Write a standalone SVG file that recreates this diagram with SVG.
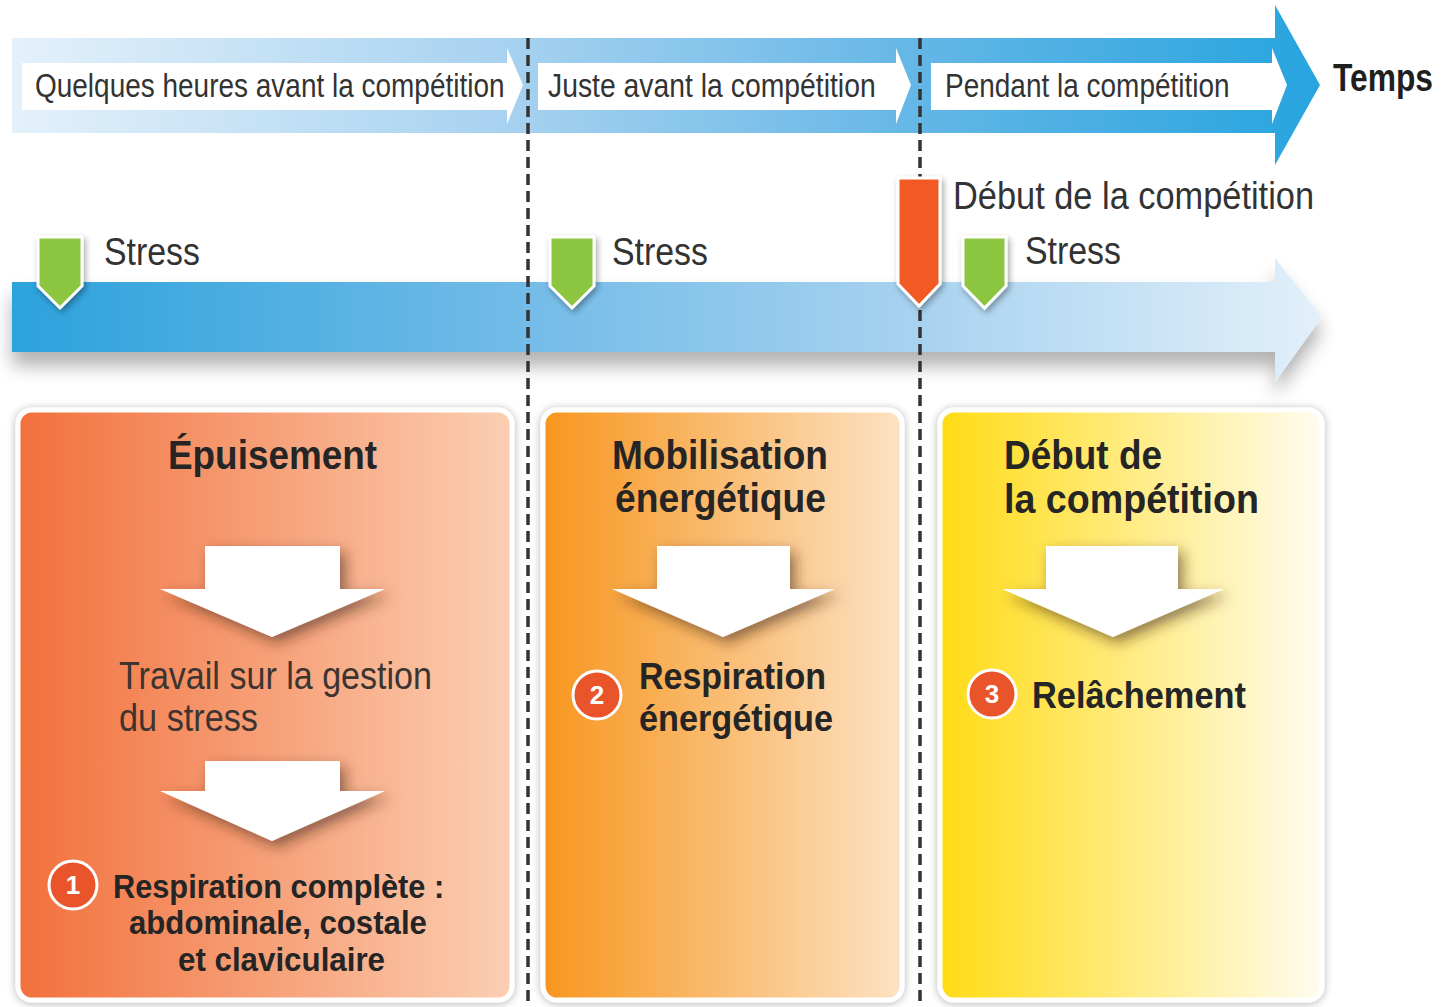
<svg xmlns="http://www.w3.org/2000/svg" width="1447" height="1007" viewBox="0 0 1447 1007">
<defs>
<style>
text{font-family:"Liberation Sans",Arial,sans-serif}
.lbl{fill:#333333;font-size:33px}
.stress{fill:#333333;font-size:38px}
.ttl{fill:#252525;font-size:40px;font-weight:bold}
.bd{fill:#252525;font-size:36px;font-weight:bold}
.bd3{fill:#252525;font-size:34px;font-weight:bold}
.reg{fill:#3d3430;font-size:38px}
.num{fill:#ffffff;font-size:26px;font-weight:bold;text-anchor:middle}
.wa{fill:#ffffff}
.div{stroke:#333333;stroke-width:3.5;stroke-dasharray:11 6;fill:none}
.box{stroke:#ffffff;stroke-width:5}
.mk{stroke:#ffffff;stroke-width:3}
.circ{fill:#e9542b;stroke:#ffffff;stroke-width:3}
</style>
<linearGradient id="gTop" x1="12" y1="0" x2="1320" y2="0" gradientUnits="userSpaceOnUse">
<stop offset="0" stop-color="#e4f1fb"/>
<stop offset="0.4" stop-color="#a3d0ef"/>
<stop offset="0.7" stop-color="#62b6e6"/>
<stop offset="1" stop-color="#27a4df"/>
</linearGradient>
<linearGradient id="gBar" x1="12" y1="0" x2="1322" y2="0" gradientUnits="userSpaceOnUse">
<stop offset="0" stop-color="#2ca2dc"/>
<stop offset="0.4" stop-color="#74bce8"/>
<stop offset="0.7" stop-color="#aad3f0"/>
<stop offset="1" stop-color="#e2f0fa"/>
</linearGradient>
<linearGradient id="gB1" x1="0" y1="0" x2="1" y2="0">
<stop offset="0" stop-color="#f2703c"/>
<stop offset="1" stop-color="#fbcfb3"/>
</linearGradient>
<linearGradient id="gB2" x1="0" y1="0" x2="1" y2="0">
<stop offset="0" stop-color="#f7961f"/>
<stop offset="1" stop-color="#fde2c4"/>
</linearGradient>
<linearGradient id="gB3" x1="0" y1="0" x2="1" y2="0">
<stop offset="0" stop-color="#ffdb14"/>
<stop offset="1" stop-color="#fffcf0"/>
</linearGradient>
<filter id="shBar" x="-5%" y="-30%" width="110%" height="180%">
<feDropShadow dx="0" dy="14" stdDeviation="9" flood-color="#000" flood-opacity="0.3"/>
</filter>
<filter id="shBox" x="-5%" y="-5%" width="110%" height="110%">
<feDropShadow dx="0" dy="1" stdDeviation="4" flood-color="#000" flood-opacity="0.3"/>
</filter>
<filter id="shMk" x="-50%" y="-30%" width="200%" height="160%">
<feDropShadow dx="2" dy="3" stdDeviation="3" flood-color="#000" flood-opacity="0.35"/>
</filter>
<filter id="shArr" x="-20%" y="-20%" width="150%" height="160%">
<feDropShadow dx="5" dy="6" stdDeviation="7" flood-color="#3a2010" flood-opacity="0.55"/>
</filter>
</defs>

<rect width="1447" height="1007" fill="#ffffff"/>

<g id="time-band">
<path d="M12,38 H1275 V5 L1320,85 L1275,165 V133 H12 Z" fill="url(#gTop)"/>
<path class="wa" d="M22,63 H507 V48 L523,85 L507,124 V110 H22 Z"/>
<path class="wa" d="M538,63 H896 V48 L911,85 L896,124 V110 H538 Z"/>
<path class="wa" d="M931,63 H1272 V48 L1287,85 L1272,124 V110 H931 Z"/>
<text class="lbl" transform="translate(35,97) scale(0.86,1)" textLength="546" lengthAdjust="spacingAndGlyphs">Quelques heures avant la compétition</text>
<text class="lbl" transform="translate(548,97) scale(0.86,1)" textLength="381" lengthAdjust="spacingAndGlyphs">Juste avant la compétition</text>
<text class="lbl" transform="translate(945,97) scale(0.86,1)" textLength="331" lengthAdjust="spacingAndGlyphs">Pendant la compétition</text>
<text transform="translate(1333,91) scale(0.82,1)" style="fill:#1f1f1f;font-size:39px;font-weight:bold" textLength="122" lengthAdjust="spacingAndGlyphs">Temps</text>
</g>

<g id="timeline-bar">
<path d="M12,282 H1275 V258 L1322,317 L1275,382 V352 H12 Z" fill="url(#gBar)" filter="url(#shBar)"/>
</g>

<g id="box-epuisement">
<rect class="box" x="18" y="410" width="494" height="590" rx="14" fill="url(#gB1)" filter="url(#shBox)"/>
<text class="ttl" x="168" y="469" textLength="209" lengthAdjust="spacingAndGlyphs">Épuisement</text>
<text class="reg" x="119" y="689" textLength="313" lengthAdjust="spacingAndGlyphs">Travail sur la gestion</text>
<text class="reg" x="119" y="731" textLength="139" lengthAdjust="spacingAndGlyphs">du stress</text>
<circle class="circ" cx="73" cy="885" r="24"/>
<text class="num" x="73" y="894">1</text>
<text class="bd3" transform="translate(113,898) scale(0.9,1)" textLength="368" lengthAdjust="spacingAndGlyphs">Respiration complète :</text>
<text class="bd3" transform="translate(129,934) scale(0.9,1)" textLength="331" lengthAdjust="spacingAndGlyphs">abdominale, costale</text>
<text class="bd3" transform="translate(178,971) scale(0.9,1)" textLength="230" lengthAdjust="spacingAndGlyphs">et claviculaire</text>
</g>

<g id="box-mobilisation">
<rect class="box" x="543" y="410" width="359" height="590" rx="14" fill="url(#gB2)" filter="url(#shBox)"/>
<text class="ttl" x="612" y="469" textLength="216" lengthAdjust="spacingAndGlyphs">Mobilisation</text>
<text class="ttl" x="615" y="512" textLength="211" lengthAdjust="spacingAndGlyphs">énergétique</text>
<circle class="circ" cx="597" cy="695" r="24"/>
<text class="num" x="597" y="704">2</text>
<text class="bd" x="639" y="689" textLength="187" lengthAdjust="spacingAndGlyphs">Respiration</text>
<text class="bd" x="639" y="731" textLength="194" lengthAdjust="spacingAndGlyphs">énergétique</text>
</g>

<g id="box-debut">
<rect class="box" x="940" y="410" width="382" height="590" rx="14" fill="url(#gB3)" filter="url(#shBox)"/>
<text class="ttl" x="1004" y="469" textLength="158" lengthAdjust="spacingAndGlyphs">Début de</text>
<text class="ttl" x="1004" y="513" textLength="255" lengthAdjust="spacingAndGlyphs">la compétition</text>
<circle class="circ" cx="992" cy="694" r="24"/>
<text class="num" x="992" y="703">3</text>
<text class="bd" x="1032" y="708" textLength="214" lengthAdjust="spacingAndGlyphs">Relâchement</text>
</g>

<g id="connectors">
<line class="div" x1="528" y1="38" x2="528" y2="1007"/>
<line class="div" x1="920" y1="38" x2="920" y2="1007"/>
<g filter="url(#shArr)">
<path class="wa" d="M205,546 H340 V589 H385 L272,637 L160,589 H205 Z"/>
<path class="wa" d="M205,761 H340 V791 H385 L272,841 L160,791 H205 Z"/>
<path class="wa" d="M657,546 H790 V589 H835 L723,637 L612,589 H657 Z"/>
<path class="wa" d="M1046,546 H1178 V589 H1224 L1113,637 L1002,589 H1046 Z"/>
</g>
</g>

<g id="marker-stress-1">
<path class="mk" d="M38,237 H82 V286 L60,308 L38,286 Z" fill="#8cc540" filter="url(#shMk)"/>
<text class="stress" x="104" y="265" textLength="96" lengthAdjust="spacingAndGlyphs">Stress</text>
</g>
<g id="marker-stress-2">
<path class="mk" d="M550,237 H594 V286 L572,308 L550,286 Z" fill="#8cc540" filter="url(#shMk)"/>
<text class="stress" x="612" y="265" textLength="96" lengthAdjust="spacingAndGlyphs">Stress</text>
</g>
<g id="marker-debut">
<path class="mk" d="M898,178 H940 V284 L919,306 L898,284 Z" fill="#f15a24" filter="url(#shMk)"/>
<text class="stress" x="953" y="209" textLength="361" lengthAdjust="spacingAndGlyphs">Début de la compétition</text>
</g>
<g id="marker-stress-3">
<path class="mk" d="M963,237 H1006 V286 L984.5,308 L963,286 Z" fill="#8cc540" filter="url(#shMk)"/>
<text class="stress" x="1025" y="264" textLength="96" lengthAdjust="spacingAndGlyphs">Stress</text>
</g>
</svg>
